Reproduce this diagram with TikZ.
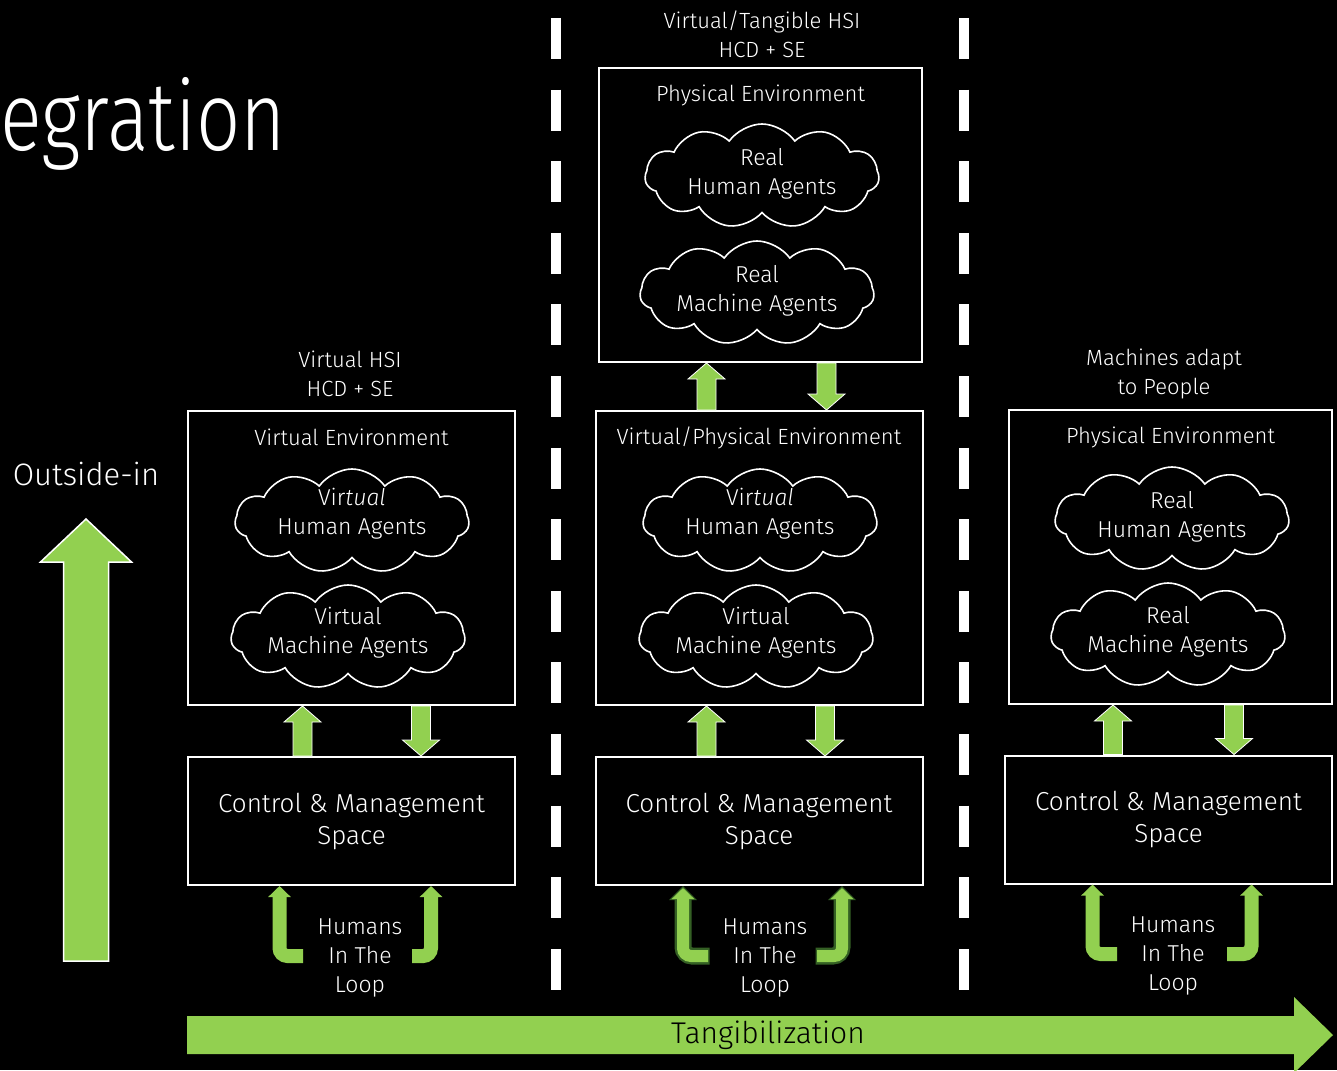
\documentclass[tikz,border=0pt]{standalone}
\usepackage{fontspec}
\setmainfont{Fira Sans Light}[ItalicFont={Fira Sans Light Italic}]
\usepackage{tikz}
\usetikzlibrary{positioning,calc,shapes.symbols,arrows.meta}
\definecolor{yellowgreen}{RGB}{146,208,80}
\definecolor{loopgreen}{RGB}{52,96,36}

% block arrow: [opts]{tail}{tip}{half shaft}{half head}{head length}
\newcommand{\blockarr}[6][]{%
	\coordinate (hb) at ($(#3)!#6!(#2)$);
	\filldraw[fill=yellowgreen,#1] ($(#2)!#4!90:(#3)$) -- ($(hb)!#4!90:(#3)$) -- ($(hb)!#5!90:(#3)$) -- (#3) -- ($(hb)!#5!-90:(#3)$) -- ($(hb)!#4!-90:(#3)$) -- ($(#2)!#4!-90:(#3)$) -- cycle;
}

\begin{document}
\begin{tikzpicture}[x=1pt,y=-1pt,
	every node/.style={text=white,font=\fontsize{22}{29}\selectfont,align=center,inner sep=0pt},
	env/.style={draw=white,line width=2pt,minimum width=327pt,minimum height=294pt},
	ctlbox/.style={draw=white,line width=2pt,minimum width=327pt,minimum height=128pt,font=\fontsize{26}{32}\selectfont},
	cloudy/.style={cloud,cloud puffs=11,cloud puff arc=110,cloud ignores aspect,draw=white,line width=1.6pt,minimum width=234pt,minimum height=104pt},
	agents/.style={font=\fontsize{23}{29}\selectfont},
	thinout/.style={draw=white,line width=0.8pt},
	loopar/.style={yellowgreen,line width=14pt,rounded corners=8pt,-{Triangle[width=22pt,length=11pt]}},
	loopout/.style={loopgreen,line width=17pt,rounded corners=9pt,shorten <=-1.5pt,-{Triangle[width=27pt,length=14pt]}},
	divider/.style={white,line width=10pt,dash pattern=on 41pt off 30.6pt}
	]

	\fill[black] (0,0) rectangle (1337,1070);
	\useasboundingbox (0,0) rectangle (1337,1070);

	\node[anchor=base west,font=\fontsize{97}{110}\selectfont] (ttl) at (0,150) {\scalebox{0.8}[1]{egration}};

	% separators
	\draw[divider] (556,18) -- (556,992);
	\draw[divider] (964,18) -- (964,992);

	% left column
	\node (ttl1) at (350,374) {Virtual HSI\\HCD + SE};
	\node[env] (env1) at (351.5,558) {};
	\node (lbl1) at ([yshift=-27pt]env1.north) {Virtual Environment};
	\node[cloudy] (vh1) at (352,521) {};
	\node[agents] at ([yshift=7pt]vh1.center) {Vir\textit{tual}\\Human Agents};
	\node[cloudy] (vm1) at (348,637) {};
	\node[agents] at ([yshift=4pt]vm1.center) {Virtual\\Machine Agents};
	\node[ctlbox] (ctl1) at (351.5,821) {Control \& Management\\Space};
	\node[agents] (hum1) at (360,958) {Humans\\In The\\Loop};

	% middle column
	\node (ttl2) at (762,34) {Virtual/Tangible HSI\\HCD + SE};
	\node[env,minimum width=323pt] (phy2) at (760.5,215) {};
	\node (lbl2a) at ([yshift=-28pt]phy2.north) {Physical Environment};
	\node[cloudy] (rh2) at (762,176) {};
	\node[agents] at ([yshift=2pt]rh2.center) {Real\\Human Agents};
	\node[cloudy] (rm2) at (757,293) {};
	\node[agents] at ([yshift=2pt]rm2.center) {Real\\Machine Agents};
	\node[env] (env2) at (759,558) {};
	\node (lbl2) at ([yshift=-28pt]env2.north) {Virtual/Physical Environment};
	\node[cloudy] (vh2) at (760,521) {};
	\node[agents] at ([yshift=7pt]vh2.center) {Vir\textit{tual}\\Human Agents};
	\node[cloudy] (vm2) at (756,637) {};
	\node[agents] at ([yshift=4pt]vm2.center) {Virtual\\Machine Agents};
	\node[ctlbox] (ctl2) at (759,821) {Control \& Management\\Space};
	\node[agents] (hum2) at (765,958) {Humans\\In The\\Loop};

	% right column
	\node (ttl3) at (1164,374) {Machines adapt\\to People};
	\node[env,minimum width=323pt] (env3) at (1170.5,557) {};
	\node (lbl3) at ([yshift=-28pt]env3.north) {Physical Environment};
	\node[cloudy] (rh3) at (1172,519) {};
	\node[agents] at ([yshift=2pt]rh3.center) {Real\\Human Agents};
	\node[cloudy] (rm3) at (1168,635) {};
	\node[agents] at ([yshift=3pt]rm3.center) {Real\\Machine Agents};
	\node[ctlbox] (ctl3) at (1168.5,819.5) {Control \& Management\\Space};
	\node[agents] (hum3) at (1173,956) {Humans\\In The\\Loop};

	% arrows between boxes
	\coordinate (u1a) at ([xshift=-49pt]ctl1.north);
	\coordinate (u1b) at (u1a |- env1.south);
	\coordinate (d1a) at ([xshift=69.5pt]env1.south);
	\coordinate (d1b) at (d1a |- ctl1.north);
	\blockarr[thinout]{u1a}{u1b}{9.5pt}{18.5pt}{16pt}
	\blockarr[thinout]{d1a}{d1b}{9.5pt}{18.5pt}{16pt}

	\coordinate (u2a) at ([xshift=-52.5pt]ctl2.north);
	\coordinate (u2b) at (u2a |- env2.south);
	\coordinate (d2a) at ([xshift=66pt]env2.south);
	\coordinate (d2b) at (d2a |- ctl2.north);
	\blockarr[thinout]{u2a}{u2b}{9.5pt}{18.5pt}{16pt}
	\blockarr[thinout]{d2a}{d2b}{9.5pt}{18.5pt}{16pt}

	\coordinate (u0a) at ([xshift=-52.5pt]env2.north);
	\coordinate (u0b) at (u0a |- phy2.south);
	\coordinate (d0a) at ([xshift=66pt]phy2.south);
	\coordinate (d0b) at (d0a |- env2.north);
	\blockarr[thinout]{u0a}{u0b}{9.5pt}{18.5pt}{16pt}
	\blockarr[thinout]{d0a}{d0b}{9.5pt}{18.5pt}{16pt}

	\coordinate (u3a) at ([xshift=-55.5pt]ctl3.north);
	\coordinate (u3b) at (u3a |- env3.south);
	\coordinate (d3a) at ([xshift=63.5pt]env3.south);
	\coordinate (d3b) at (d3a |- ctl3.north);
	\blockarr[thinout]{u3a}{u3b}{9.5pt}{18.5pt}{16pt}
	\blockarr[thinout]{d3a}{d3b}{9.5pt}{18.5pt}{16pt}

	% humans in the loop
	\draw[loopar] ([xshift=-57pt,yshift=2pt]hum1.center) -| ([xshift=-72pt]ctl1.south);
	\draw[loopar] ([xshift=52pt,yshift=2pt]hum1.center) -| ([xshift=79.5pt]ctl1.south);

	\draw[loopout] ([xshift=-57pt,yshift=2pt]hum2.center) -| ([xshift=-76pt]ctl2.south);
	\draw[loopout] ([xshift=52pt,yshift=2pt]hum2.center) -| ([xshift=83pt]ctl2.south);
	\draw[loopar,line width=12pt,shorten >=2pt] ([xshift=-57pt,yshift=2pt]hum2.center) -| ([xshift=-76pt]ctl2.south);
	\draw[loopar,line width=12pt,shorten >=2pt] ([xshift=52pt,yshift=2pt]hum2.center) -| ([xshift=83pt]ctl2.south);

	\draw[loopar] ([xshift=-56pt,yshift=2pt]hum3.center) -| ([xshift=-76pt]ctl3.south);
	\draw[loopar] ([xshift=54pt,yshift=2pt]hum3.center) -| ([xshift=83pt]ctl3.south);

	% big arrows
	\node[font=\fontsize{31}{36}\selectfont] (oin) at (86,474) {Outside-in};
	\coordinate (oinA) at (86,961);
	\coordinate (oinB) at (86,519);
	\blockarr[draw=white,line width=1.5pt]{oinA}{oinB}{22.5pt}{45.5pt}{43pt}

	\coordinate (tgA) at (187,1035);
	\coordinate (tgB) at (1333,1035);
	\blockarr[draw=none]{tgA}{tgB}{19pt}{38pt}{39pt}
	\node[text=black,font=\fontsize{30}{36}\selectfont] (tang) at (768,1035) {Tangibilization};
\end{tikzpicture}
\end{document}
